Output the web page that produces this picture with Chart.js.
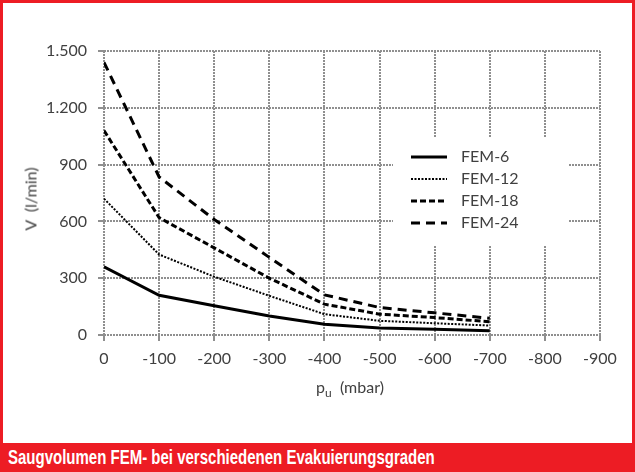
<!DOCTYPE html>
<html lang="de">
<head>
  <meta charset="UTF-8">
  <title>Saugvolumen FEM</title>
  <script src="https://cdn.jsdelivr.net/npm/chart.js@4.4.0/dist/chart.umd.min.js"></script>
  <style>
    body { margin: 0; background: #fff; }
    #frame { position: relative; width: 635px; height: 472px; background: #ed1c24; overflow: hidden; }
    #panel { position: absolute; left: 3px; top: 3px; width: 629px; height: 440px; background: #fff; }
    #panel canvas { position: absolute; left: 0; top: 0; }
    .axisTitle { position: absolute; font-family: Lato, sans-serif; font-size: 16px; color: #404040; white-space: pre; }
    #yTitle { left: 30px; top: 199px; transform: translate(-50%, -50%) rotate(-90deg); }
    #xTitle { left: 350px; top: 388px; transform: translate(-50%, -50%); }
    #xTitle sub { font-size: 12px; vertical-align: -4px; }
    #caption { position: absolute; left: 8px; top: 443px; font-family: "Liberation Sans", sans-serif;
               font-weight: bold; font-size: 20px; color: #fff; line-height: 29px; white-space: nowrap;
               transform: scaleX(0.75); transform-origin: left center; }
  </style>
</head>
<body>
  <div id="frame">
    <div id="panel">
      <canvas id="chart" width="629" height="440"></canvas>
    </div>
    <div class="axisTitle" id="yTitle">V  (l/min)</div>
    <div class="axisTitle" id="xTitle">p<sub>u</sub>  (mbar)</div>
    <div id="caption">Saugvolumen FEM- bei verschiedenen Evakuierungsgraden</div>
  </div>

  <script>
    // pressure (mbar) and suction volume (l/min) per pump size
    const pressures = [0, -100, -200, -300, -400, -500, -600, -700];
    const fem6  = [360, 210, 155, 100, 57, 37, 30, 22];
    const fem12 = [720, 425, 308, 207, 110, 75, 62, 50];
    const fem18 = [1080, 620, 460, 300, 163, 110, 92, 70];
    const fem24 = [1440, 835, 610, 410, 212, 145, 117, 88];
    const seriesNames = ['FEM-6', 'FEM-12', 'FEM-18', 'FEM-24'];

    const toPoints = arr => pressures.map((p, i) => ({ x: p, y: arr[i] }));
    const germanNum = v => String(v).replace(/\B(?=(\d{3})+(?!\d))/g, '.');

    const lineStyles = [
      { borderWidth: 3, borderDash: [] },
      { borderWidth: 2, borderDash: [2, 1.5] },
      { borderWidth: 3, borderDash: [6, 3] },
      { borderWidth: 3, borderDash: [9, 6] }
    ];

    const datasets = [fem6, fem12, fem18, fem24].map((arr, i) => ({
      label: seriesNames[i],
      data: toPoints(arr),
      borderColor: '#000',
      borderWidth: lineStyles[i].borderWidth,
      borderDash: lineStyles[i].borderDash,
      pointRadius: 0,
      tension: 0,
      fill: false
    }));

    // legend drawn inside the plot, on a white box
    const innerLegend = {
      id: 'innerLegend',
      afterDatasetsDraw(chart) {
        const ctx = chart.ctx;
        ctx.save();
        ctx.fillStyle = '#fff';
        ctx.fillRect(390, 134, 175, 108);
        ctx.font = '16px Lato, sans-serif';
        ctx.textBaseline = 'middle';
        chart.data.datasets.forEach((ds, i) => {
          const y = 154 + i * 22;
          ctx.strokeStyle = ds.borderColor;
          ctx.lineWidth = ds.borderWidth;
          ctx.setLineDash(ds.borderDash);
          ctx.beginPath();
          ctx.moveTo(408, y);
          ctx.lineTo(444, y);
          ctx.stroke();
          ctx.setLineDash([]);
          ctx.fillStyle = '#404040';
          ctx.fillText(ds.label, 458, y);
        });
        ctx.restore();
      }
    };

    const gridStyle = { color: '#8f8f8f', lineWidth: 2, tickLength: 6, tickColor: '#8f8f8f' };

    new Chart(document.getElementById('chart'), {
      type: 'line',
      data: { datasets },
      options: {
        responsive: false,
        animation: false,
        devicePixelRatio: 1,
        layout: { padding: { left: 0, top: 48, right: 32, bottom: 0 } },
        plugins: { legend: { display: false }, tooltip: { enabled: false } },
        scales: {
          x: {
            type: 'linear',
            reverse: true,
            min: -900,
            max: 0,
            border: { display: false, dash: [2, 1] },
            grid: gridStyle,
            ticks: {
              stepSize: 100,
              padding: 8,
              color: '#404040',
              font: { family: 'Lato', size: 16 },
              callback: v => String(v)
            },
            afterFit: s => { s.height = 108; }
          },
          y: {
            min: 0,
            max: 1500,
            border: { display: false, dash: [2, 1] },
            grid: gridStyle,
            ticks: {
              stepSize: 300,
              padding: 11,
              color: '#404040',
              font: { family: 'Lato', size: 16 },
              callback: v => germanNum(v)
            },
            afterFit: s => { s.width = 101; }
          }
        }
      },
      plugins: [innerLegend]
    });
  </script>
</body>
</html>
